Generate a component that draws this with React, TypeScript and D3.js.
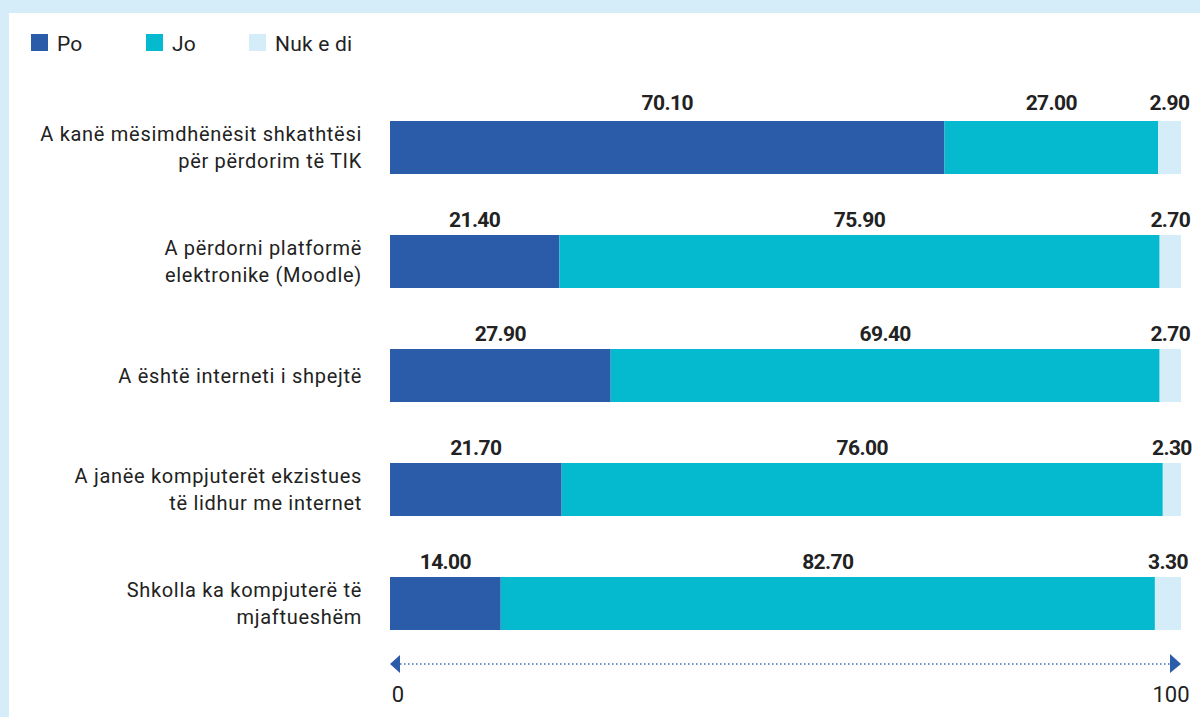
import React from "react";
import * as d3 from "d3";

const categories = [
  ["A kanë mësimdhënësit shkathtësi", "për përdorim të TIK"],
  ["A përdorni platformë", "elektronike (Moodle)"],
  ["A është interneti i shpejtë"],
  ["A janëe kompjuterët ekzistues", "të lidhur me internet"],
  ["Shkolla ka kompjuterë të", "mjaftueshëm"],
];
const seriesNames = ["Po", "Jo", "Nuk e di"];
const poValues = [70.1, 21.4, 27.9, 21.7, 14.0];
const joValues = [27.0, 75.9, 69.4, 76.0, 82.7];
const nukValues = [2.9, 2.7, 2.7, 2.3, 3.3];
const axisTicks = [0, 100];

const colors = ["#2a5caa", "#05b9ce", "#d5ecf9"];
const W = 1200;
const H = 717;
const FONT = "Roboto, sans-serif";
const BODY = "Roboto, 'Liberation Sans', sans-serif";

export default function App() {
  const x = d3.scaleLinear().domain([0, 100]).range([390, 1181]);
  const keys = categories.map((_, i) => String(i));
  const y = d3.scaleBand<string>().domain(keys).range([121, 630]).paddingInner(0.535).paddingOuter(0);
  const rows = keys.map((k, i) => ({ key: k, Po: poValues[i], Jo: joValues[i], Nuk: nukValues[i] }));
  const stack = d3.stack<any>().keys(["Po", "Jo", "Nuk"]);
  const layers = stack(rows);
  const bw = y.bandwidth();
  const axisY = 664;

  return (
    <svg width={W} height={H} style={{ position: "absolute", left: 0, top: 0, display: "block" }}>
      <rect x={0} y={0} width={W} height={H} fill="#fff" />
      <rect x={0} y={0} width={W} height={13} fill="#d5ecf9" />
      <rect x={0} y={0} width={9} height={H} fill="#d5ecf9" />

      {/* legend */}
      {seriesNames.map((s, i) => {
        const lx = [31, 146, 249][i];
        return (
          <g key={s}>
            <rect x={lx} y={34} width={17} height={17} fill={colors[i]} />
            <text x={lx + 26} y={51} fontFamily={BODY} fontSize={21} fill="#222" letterSpacing={0.2}>
              {s}
            </text>
          </g>
        );
      })}

      {/* category labels */}
      {categories.map((lines, i) => {
        const cy = (y(keys[i]) as number) + bw / 2;
        const lh = 27;
        const start = cy - ((lines.length - 1) * lh) / 2 + 7;
        return (
          <text key={i} textAnchor="end" fontFamily={BODY} fontSize={20} fill="#222" letterSpacing={0.7}>
            {lines.map((l, j) => (
              <tspan key={j} x={362} y={start + j * lh}>
                {l}
              </tspan>
            ))}
          </text>
        );
      })}

      {/* bars */}
      {layers.map((layer, li) => (
        <g key={layer.key}>
          {layer.map((d, i) => (
            <rect
              key={i}
              x={x(d[0])}
              y={y(keys[i])}
              width={x(d[1]) - x(d[0])}
              height={bw}
              fill={colors[li]}
            />
          ))}
        </g>
      ))}

      {/* value labels */}
      {layers.map((layer, li) => (
        <g key={"l" + layer.key}>
          {layer.map((d, i) => (
            <text
              key={i}
              x={(x(d[0]) + x(d[1])) / 2}
              y={(y(keys[i]) as number) - (i === 0 ? 11 : 8)}
              textAnchor="middle"
              fontFamily={FONT}
              fontWeight="bold"
              fontSize={21}
              letterSpacing={-0.6}
              fill="#222"
            >
              {(d[1] - d[0]).toFixed(2)}
            </text>
          ))}
        </g>
      ))}

      {/* axis */}
      <line
        x1={x(0) + 10}
        x2={x(100) - 11}
        y1={axisY}
        y2={axisY}
        stroke="#3b6fc0"
        strokeWidth={1.5}
        strokeDasharray="1.5,2.5"
      />
      <path d={`M${x(0)},${axisY} L${x(0) + 10},${axisY - 9} L${x(0) + 10},${axisY + 9} Z`} fill="#2a5caa" />
      <path d={`M${x(100)},${axisY} L${x(100) - 11},${axisY - 10} L${x(100) - 11},${axisY + 9} Z`} fill="#2a5caa" />
      {axisTicks.map((t, i) => (
        <text
          key={t}
          x={x(t) + (i === 0 ? 8 : -10)}
          y={702}
          textAnchor="middle"
          fontFamily={BODY}
          fontSize={22}
          fill="#222"
        >
          {t}
        </text>
      ))}
    </svg>
  );
}
